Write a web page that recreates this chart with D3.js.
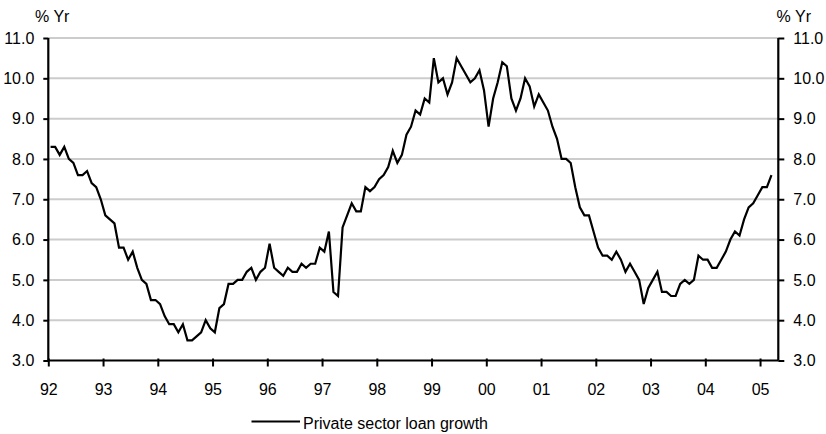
<!DOCTYPE html>
<html>
<head>
<meta charset="utf-8">
<script src="https://cdn.jsdelivr.net/npm/d3@7"></script>
<style>
  html, body { margin: 0; padding: 0; background: #fff; }
  svg { display: block; }
  text { font-family: "Liberation Sans", Arial, Helvetica, sans-serif; font-size: 16px; fill: #000; }
</style>
</head>
<body>
<svg id="chart" width="826" height="434"></svg>
<script>
// Private sector loan growth, % year on year, monthly from January 1992
const startYear = 1992;
const loanGrowth = [
  // 1992
  8.3, 8.3, 8.1, 8.3, 8.0, 7.9, 7.6, 7.6, 7.7, 7.4, 7.3, 7.0,
  // 1993
  6.6, 6.5, 6.4, 5.8, 5.8, 5.5, 5.7, 5.3, 5.0, 4.9, 4.5, 4.5,
  // 1994
  4.4, 4.1, 3.9, 3.9, 3.7, 3.9, 3.5, 3.5, 3.6, 3.7, 4.0, 3.8,
  // 1995
  3.7, 4.3, 4.4, 4.9, 4.9, 5.0, 5.0, 5.2, 5.3, 5.0, 5.2, 5.3,
  // 1996
  5.9, 5.3, 5.2, 5.1, 5.3, 5.2, 5.2, 5.4, 5.3, 5.4, 5.4, 5.8,
  // 1997
  5.7, 6.2, 4.7, 4.6, 6.3, 6.6, 6.9, 6.7, 6.7, 7.3, 7.2, 7.3,
  // 1998
  7.5, 7.6, 7.8, 8.2, 7.9, 8.1, 8.6, 8.8, 9.2, 9.1, 9.5, 9.4,
  // 1999
  10.5, 9.9, 10.0, 9.6, 9.9, 10.5, 10.3, 10.1, 9.9, 10.0, 10.2, 9.7,
  // 2000
  8.8, 9.5, 9.9, 10.4, 10.3, 9.5, 9.2, 9.5, 10.0, 9.8, 9.3, 9.6,
  // 2001
  9.4, 9.2, 8.8, 8.5, 8.0, 8.0, 7.9, 7.3, 6.8, 6.6, 6.6, 6.2,
  // 2002
  5.8, 5.6, 5.6, 5.5, 5.7, 5.5, 5.2, 5.4, 5.2, 5.0, 4.4, 4.8,
  // 2003
  5.0, 5.2, 4.7, 4.7, 4.6, 4.6, 4.9, 5.0, 4.9, 5.0, 5.6, 5.5,
  // 2004
  5.5, 5.3, 5.3, 5.5, 5.7, 6.0, 6.2, 6.1, 6.5, 6.8, 6.9, 7.1,
  // 2005
  7.3, 7.3, 7.6
];
const tickYears = [1992, 1993, 1994, 1995, 1996, 1997, 1998, 1999, 2000, 2001, 2002, 2003, 2004, 2005];
const yTicks = [3, 4, 5, 6, 7, 8, 9, 10, 11];
const unitLabel = "% Yr";
const seriesName = "Private sector loan growth";

const svg = d3.select("#chart");
const plotLeft = 48.3, plotRight = 778.3, plotTop = 38, plotBottom = 360.5;

const x = d3.scaleLinear().domain([1992, 2005 + 4 / 12]).range([plotLeft, plotRight]);
const y = d3.scaleLinear().domain([3, 11]).range([plotBottom, plotTop]);

// horizontal gridlines
svg.append("g")
  .selectAll("line")
  .data(yTicks.filter(v => v > 3))
  .join("line")
  .attr("x1", plotLeft).attr("x2", plotRight)
  .attr("y1", d => y(d)).attr("y2", d => y(d))
  .attr("stroke", "#cccccc").attr("stroke-width", 2);

// left axis
const gl = svg.append("g").attr("transform", `translate(${plotLeft},0)`)
  .call(d3.axisLeft(y).tickValues(yTicks).tickFormat(d3.format(".1f")).tickSize(5).tickPadding(9));
// right axis
const gr = svg.append("g").attr("transform", `translate(${plotRight},0)`)
  .call(d3.axisRight(y).tickValues(yTicks).tickFormat(d3.format(".1f")).tickSize(6).tickPadding(9));
// bottom axis
const gb = svg.append("g").attr("transform", `translate(0,${plotBottom})`)
  .call(d3.axisBottom(x).tickValues(tickYears)
    .tickFormat(d => String(d % 100).padStart(2, "0")).tickSize(6).tickPadding(17));

[gl, gr, gb].forEach(g => {
  g.select(".domain").attr("stroke", "#000").attr("stroke-width", 2.2);
  g.selectAll(".tick line").attr("stroke", "#000").attr("stroke-width", 2);
  g.selectAll(".tick text").style("font-size", "16px").attr("fill", "#000");
});
gl.select(".domain").attr("d", `M0,${plotTop}V${plotBottom}`);
gr.select(".domain").attr("d", `M0,${plotTop}V${plotBottom}`);
gb.select(".domain").attr("d", `M${plotLeft},0H${plotRight}`);
gb.selectAll(".tick line").attr("y1", -2).attr("y2", 6);

// unit labels above both axes
svg.append("text").attr("x", 35).attr("y", 21.5).text(unitLabel);
svg.append("text").attr("x", 811).attr("y", 21.5).attr("text-anchor", "end").text(unitLabel);

// the series
const line = d3.line()
  .x((d, i) => x(startYear + (i + 0.5) / 12))
  .y(d => y(d));
svg.append("path")
  .datum(loanGrowth)
  .attr("d", line)
  .attr("fill", "none")
  .attr("stroke", "#000")
  .attr("stroke-width", 2.2)
  .attr("stroke-linejoin", "miter");

// legend
const lg = svg.append("g");
lg.append("line").attr("x1", 251.5).attr("x2", 300).attr("y1", 421.5).attr("y2", 421.5)
  .attr("stroke", "#000").attr("stroke-width", 2);
lg.append("text").attr("x", 303).attr("y", 428.5).text(seriesName);
</script>
</body>
</html>
